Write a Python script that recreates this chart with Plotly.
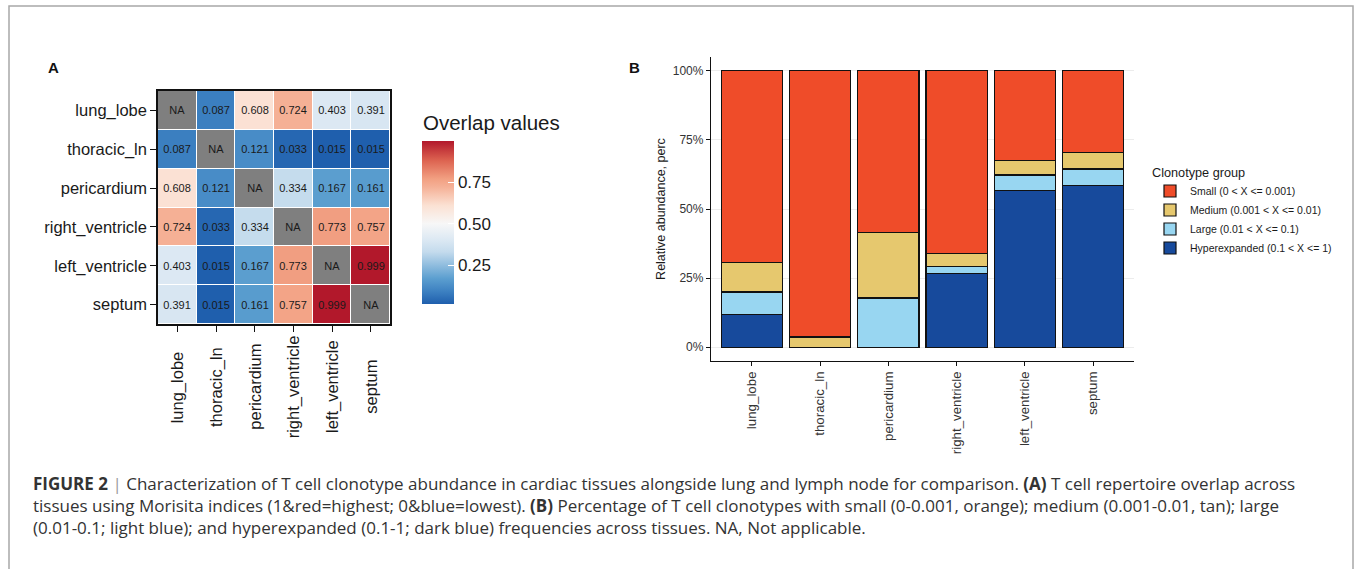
import plotly.graph_objects as go

# ---------------- data ----------------
tissues = ["lung_lobe", "thoracic_ln", "pericardium", "right_ventricle", "left_ventricle", "septum"]

overlap = [
    [None, 0.087, 0.608, 0.724, 0.403, 0.391],
    [0.087, None, 0.121, 0.033, 0.015, 0.015],
    [0.608, 0.121, None, 0.334, 0.167, 0.161],
    [0.724, 0.033, 0.334, None, 0.773, 0.757],
    [0.403, 0.015, 0.167, 0.773, None, 0.999],
    [0.391, 0.015, 0.161, 0.757, 0.999, None],
]
cbar_ticks = [0.25, 0.50, 0.75]
cbar_ticklabels = ["0.25", "0.50", "0.75"]

groups = ["Hyperexpanded (0.1 < X <= 1)", "Large (0.01 < X <= 0.1)",
          "Medium (0.001 < X <= 0.01)", "Small (0 < X <= 0.001)"]
hyper = [11.9, 0.0, 0.0, 26.6, 56.7, 58.5]
large = [8.1, 0.0, 17.8, 2.6, 5.6, 6.0]
medium = [10.7, 3.7, 23.6, 4.8, 5.2, 6.0]
small = [69.3, 96.3, 58.6, 66.0, 32.5, 29.5]
pct_ticks = [0, 25, 50, 75, 100]
pct_labels = ["0%", "25%", "50%", "75%", "100%"]

caption_lines = [
    "<b>FIGURE 2</b> <span style='color:#9a9a9a'>|</span> Characterization of T cell clonotype abundance in cardiac tissues alongside lung and lymph node for comparison. <b>(A)</b> T cell repertoire overlap across",
    "tissues using Morisita indices (1&amp;red=highest; 0&amp;blue=lowest). <b>(B)</b> Percentage of T cell clonotypes with small (0-0.001, orange); medium (0.001-0.01, tan); large",
    "(0.01-0.1; light blue); and hyperexpanded (0.1-1; dark blue) frequencies across tissues. NA, Not applicable.",
]

# ---------------- styling ----------------
W, H = 1355, 569
FONT = "Liberation Sans, Arial, sans-serif"
CAPFONT = "Open Sans, Noto Sans, sans-serif"
px = lambda v: v / W
py = lambda v: 1 - v / H

vals = [v for row in overlap for v in row if v is not None]
zmin, zmax = min(vals), max(vals)
stops = [(0.0, "#1f5fad"), (0.09, "#3c80c1"), (0.17, "#5c9fd0"), (0.33, "#c4dbed"),
         (0.40, "#dbe8f3"), (0.50, "#f7f7f7"), (0.61, "#fbe1d3"), (0.72, "#f5b197"),
         (0.77, "#f2a082"), (0.88, "#dd6451"), (1.0, "#b2182b")]
cscale = []
for v, c in stops:
    t = (v - zmin) / (zmax - zmin)
    t = min(max(t, 0), 1)
    if cscale and t <= cscale[-1][0]:
        cscale[-1] = [t, c]
        continue
    cscale.append([t, c])
cscale[0][0] = 0.0
cscale[-1][0] = 1.0

fig = go.Figure()

# heatmap main values
z_text = [["" if v is None else f"{v:.3f}" for v in row] for row in overlap]
fig.add_trace(go.Heatmap(
    z=overlap, x=tissues, y=tissues, xaxis="x", yaxis="y",
    colorscale=cscale, zmin=zmin, zmax=zmax, xgap=1, ygap=1,
    text=z_text, texttemplate="%{text}",
    textfont=dict(family=FONT, size=11, color="#1a1a1a"),
    hoverongaps=False,
    colorbar=dict(
        x=px(422), xanchor="left", xpad=0, ypad=0,
        y=py(222.5), yanchor="middle",
        thickness=32, len=163, lenmode="pixels",
        outlinewidth=0,
        tickvals=cbar_ticks, ticktext=cbar_ticklabels,
        ticks="inside", ticklen=6, tickcolor="white", tickwidth=1,
        tickfont=dict(family=FONT, size=17, color="#1a1a1a"),
    ),
))
# NA cells
na_z = [[1 if v is None else None for v in row] for row in overlap]
na_text = [["NA" if v is None else "" for v in row] for row in overlap]
fig.add_trace(go.Heatmap(
    z=na_z, x=tissues, y=tissues, xaxis="x", yaxis="y",
    colorscale=[[0, "#7f7f7f"], [1, "#7f7f7f"]], showscale=False,
    xgap=1, ygap=1, text=na_text, texttemplate="%{text}",
    textfont=dict(family=FONT, size=11, color="#1a1a1a"), hoverongaps=False,
))

# stacked bars
bar_colors = ["#174a9c", "#98d6f1", "#e6c86e", "#ef4c29"]
for name, series, col in zip(groups, [hyper, large, medium, small], bar_colors):
    fig.add_trace(go.Bar(
        x=tissues, y=series, name=name, xaxis="x2", yaxis="y2",
        marker=dict(color=col, line=dict(color="#111111", width=1.2)),
        width=0.9,
    ))

annotations = []
# heatmap x labels (centred, rotated)
for t in tissues:
    annotations.append(dict(
        x=t, xref="x", y=py(387), yref="paper", text=t, showarrow=False,
        textangle=-90, xanchor="center", yanchor="middle",
        font=dict(family=FONT, size=16.5, color="#1a1a1a"),
    ))
# colorbar title
annotations.append(dict(
    x=px(421), y=py(122), xref="paper", yref="paper", text="Overlap values",
    showarrow=False, xanchor="left", yanchor="middle",
    font=dict(family=FONT, size=20.5, color="#1a1a1a"),
))
# panel letters
annotations.append(dict(x=px(46), y=py(67), xref="paper", yref="paper", text="<b>A</b>",
                        showarrow=False, xanchor="left", yanchor="middle",
                        font=dict(family=FONT, size=15, color="#111111")))
annotations.append(dict(x=px(627), y=py(67), xref="paper", yref="paper", text="<b>B</b>",
                        showarrow=False, xanchor="left", yanchor="middle",
                        font=dict(family=FONT, size=15, color="#111111")))
# caption
for i, line in enumerate(caption_lines):
    annotations.append(dict(
        x=px(31), y=py(483 + 22 * i), xref="paper", yref="paper", text=line,
        showarrow=False, xanchor="left", yanchor="middle", align="left",
        font=dict(family=CAPFONT, size=17, color="#333333"),
    ))

fig.update_layout(
    width=W, height=H, margin=dict(l=0, r=0, t=0, b=0),
    paper_bgcolor="white", plot_bgcolor="white",
    font=dict(family=FONT, color="#1a1a1a"),
    barmode="stack", bargap=0.1,
    showlegend=True,
    legend=dict(
        x=px(1150), y=py(160), xanchor="left", yanchor="top",
        traceorder="reversed",
        title=dict(text="Clonotype group", font=dict(family=FONT, size=12.7, color="#1a1a1a")),
        font=dict(family=FONT, size=10.5, color="#1a1a1a"),
        itemwidth=30, bgcolor="rgba(0,0,0,0)",
    ),
    xaxis=dict(
        domain=[px(158), px(390)], anchor="y", type="category",
        range=[-0.5, 5.5], showticklabels=False,
        ticks="outside", ticklen=6, tickcolor="#111111", tickwidth=1.2,
        showline=True, mirror=True, linecolor="#111111", linewidth=1.5,
        showgrid=False, zeroline=False,
    ),
    yaxis=dict(
        domain=[py(324), py(91)], anchor="x", type="category",
        range=[5.5, -0.5],
        ticks="outside", ticklen=6, tickcolor="#111111", tickwidth=1.2,
        tickfont=dict(family=FONT, size=16.5, color="#1a1a1a"),
        showline=True, mirror=True, linecolor="#111111", linewidth=1.5,
        showgrid=False, zeroline=False,
    ),
    xaxis2=dict(
        domain=[px(711), px(1134)], anchor="y2", type="category",
        range=[-0.6, 5.6], tickangle=-90,
        ticks="outside", ticklen=4, tickcolor="#111111", tickwidth=1.2,
        tickfont=dict(family=FONT, size=13.3, color="#333333"),
        showline=True, linecolor="#111111", linewidth=1.3,
        showgrid=False, zeroline=False,
    ),
    yaxis2=dict(
        domain=[py(361), py(57)], anchor="x2",
        range=[-5, 105], tickmode="array", tickvals=pct_ticks, ticktext=pct_labels,
        ticks="outside", ticklen=4, tickcolor="#111111", tickwidth=1.2,
        tickfont=dict(family=FONT, size=12, color="#333333"),
        showline=True, linecolor="#111111", linewidth=1.3,
        showgrid=True, gridcolor="#ececec", gridwidth=0.6, zeroline=False,
        title=dict(text="Relative abundance, perc", standoff=4,
                   font=dict(family=FONT, size=12.5, color="#1a1a1a")),
    ),
    annotations=annotations,
    shapes=[dict(type="rect", xref="paper", yref="paper",
                 x0=px(9), x1=px(1353), y0=-0.2, y1=py(6),
                 line=dict(color="#a8a8a8", width=1.5), fillcolor="rgba(0,0,0,0)",
                 layer="below")],
)

fig.write_html(
    "out.html",
    config={"displayModeBar": False},
    post_script="document.body.style.margin='0';document.body.style.overflow='hidden';",
)
